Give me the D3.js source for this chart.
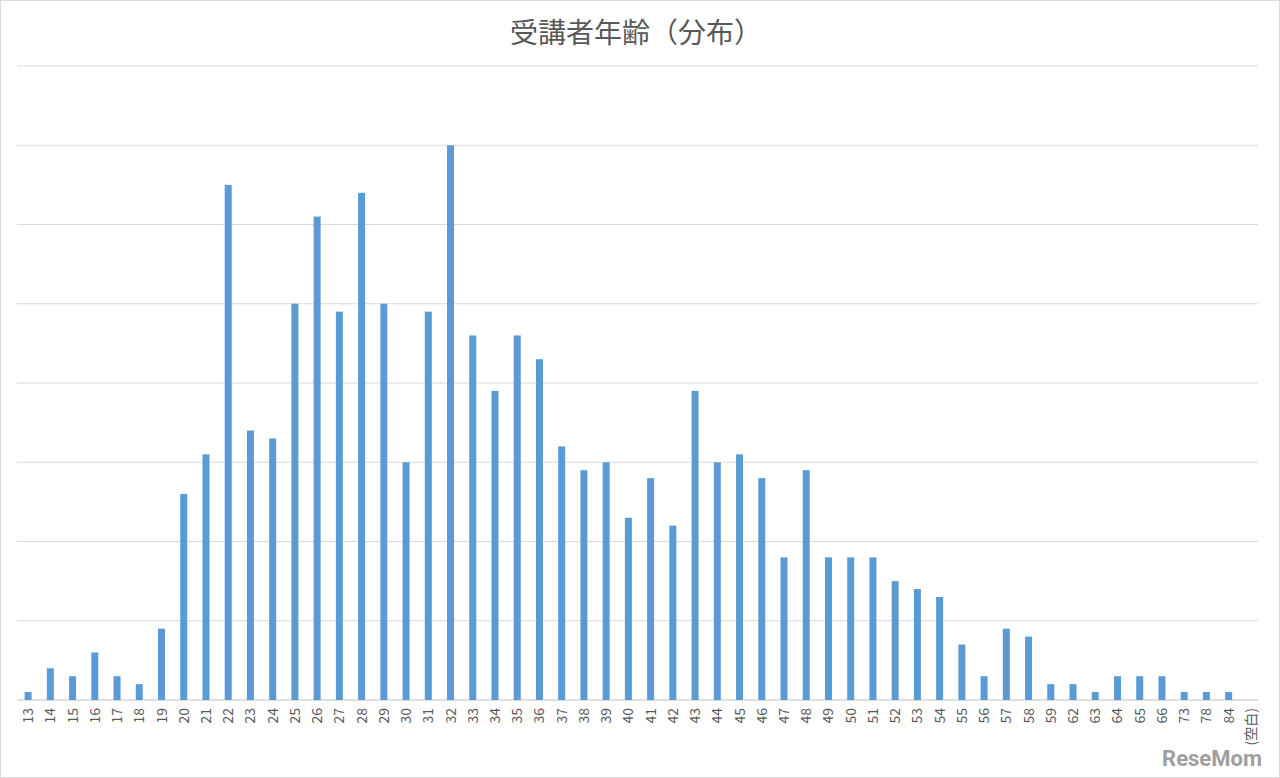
<!DOCTYPE html>
<html><head><meta charset="utf-8">
<script src="https://cdn.jsdelivr.net/npm/d3@7"></script>
<style>body{margin:0;background:#fff}</style>
</head><body><div id="chart"></div>
<script>
var ages = ["13","14","15","16","17","18","19","20","21","22","23","24","25","26","27","28","29","30","31","32","33","34","35","36","37","38","39","40","41","42","43","44","45","46","47","48","49","50","51","52","53","54","55","56","57","58","59","62","63","64","65","66","73","78","84","(空白)"];
var counts = [1,4,3,6,3,2,9,26,31,65,34,33,50,61,49,64,50,30,49,70,46,39,46,43,32,29,30,23,28,22,39,30,31,28,18,29,18,18,18,15,14,13,7,3,9,8,2,2,1,3,3,3,1,1,1,0];
var yTicks = [0,10,20,30,40,50,60,70,80];

var svg = d3.select("#chart").append("svg").attr("width", 1280).attr("height", 778);
svg.append("rect").attr("x", 0.5).attr("y", 0.5).attr("width", 1279).attr("height", 777)
  .attr("fill", "#fff").attr("stroke", "#d9d9d9");

svg.append("text").attr("x", 636).attr("y", 43).attr("text-anchor", "middle")
  .attr("font-family", "Noto Sans CJK JP").attr("font-size", 28).attr("fill", "#595959")
  .text("受講者年齢（分布）");

var x = d3.scaleBand().domain(ages).range([17, 1262]);
var y = d3.scaleLinear().domain([0, 80]).range([700, 66]);

svg.selectAll(".grid").data(yTicks).enter().append("line")
  .attr("x1", 17).attr("x2", 1258)
  .attr("y1", function(d) { return y(d); }).attr("y2", function(d) { return y(d); })
  .attr("stroke", function(d) { return d === 0 ? "#bfbfbf" : "#d9d9d9"; });

svg.selectAll(".bar").data(counts).enter().append("rect")
  .attr("x", function(d, i) { return x(ages[i]) + x.bandwidth() / 2 - 3.5; })
  .attr("width", 7)
  .attr("y", function(d) { return y(d); })
  .attr("height", function(d) { return 700 - y(d); })
  .attr("fill", "#5b9bd5");

svg.selectAll(".lab").data(ages).enter().append("text")
  .attr("transform", function(d) { return "translate(" + (x(d) + x.bandwidth() / 2 + 5) + ",708) rotate(-90)"; })
  .attr("text-anchor", "end")
  .attr("font-family", "Noto Sans CJK JP").attr("font-size", 14).attr("fill", "#595959")
  .text(function(d) { return d; });

svg.append("text").attr("x", 1262).attr("y", 766).attr("text-anchor", "end")
  .attr("font-family", "Roboto").attr("font-weight", "bold").attr("font-size", 22)
  .attr("fill", "#888").attr("opacity", 0.8).text("ReseMom");
</script></body></html>
